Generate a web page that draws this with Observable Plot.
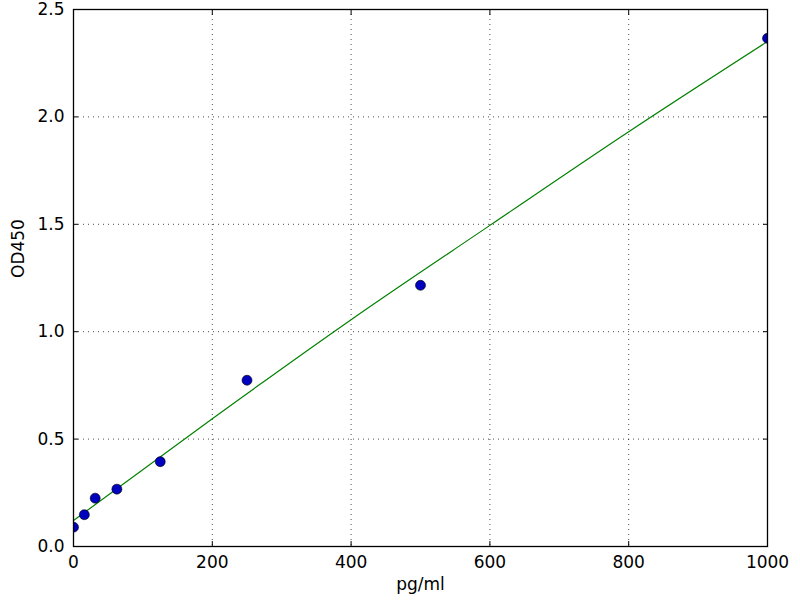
<!DOCTYPE html>
<html>
<head>
<meta charset="utf-8">
<script src="https://cdn.jsdelivr.net/npm/d3@7"></script>
<script src="https://cdn.jsdelivr.net/npm/@observablehq/plot@0.6"></script>
<style>
  body { margin: 0; background: white; }
  #chart svg { display: block; }
</style>
</head>
<body>
<div id="chart"></div>
<script>
// standard curve points
const conc = [0, 15.625, 31.25, 62.5, 125, 250, 500, 1000];
const od = [0.09, 0.148, 0.225, 0.267, 0.395, 0.774, 1.216, 2.366];

// fitted curve at the grid lines
const fitX = [0, 200, 400, 600, 800, 1000];
const fitY = [0.121, 0.595, 1.056, 1.495, 1.931, 2.351];

const xTicks = [0, 200, 400, 600, 800, 1000];
const yTicks = [0, 0.5, 1.0, 1.5, 2.0, 2.5];

const points = conc.map((x, i) => ({x, y: od[i]}));
const fit = fitX.map((x, i) => ({x, y: fitY[i]}));

const chart = Plot.plot({
  width: 800,
  height: 600,
  marginLeft: 73,
  marginRight: 33,
  marginTop: 9,
  marginBottom: 54,
  style: {
    fontFamily: "DejaVu Sans",
    fontSize: "17px",
    color: "black",
    background: "white"
  },
  x: {domain: [0, 1000]},
  y: {domain: [0, 2.5]},
  marks: [
    Plot.gridX(xTicks, {stroke: "black", strokeOpacity: 0.7, strokeDasharray: "1,4"}),
    Plot.gridY(yTicks, {stroke: "black", strokeOpacity: 0.7, strokeDasharray: "1,4"}),
    Plot.line(fit, {x: "x", y: "y", curve: "monotone-x", stroke: "#008000", strokeWidth: 1.2}),
    Plot.dot(points, {x: "x", y: "y", r: 5, fill: "#0000bf", stroke: "black", strokeWidth: 0.6, clip: true}),
    Plot.axisX(xTicks, {tickSize: -5, tickPadding: 14, tickFormat: d3.format("d"), label: null, fontSize: 17}),
    Plot.axisX(xTicks, {anchor: "top", tickSize: -5, tickFormat: () => "", label: null}),
    Plot.axisY(yTicks, {tickSize: -5, tickPadding: 14, tickFormat: d3.format(".1f"), label: null, fontSize: 17}),
    Plot.axisY(yTicks, {anchor: "right", tickSize: -5, tickFormat: () => "", label: null}),
    Plot.frame({stroke: "black", strokeWidth: 1.3}),
    Plot.text(["pg/ml"], {frameAnchor: "bottom", dy: 43, fontSize: 17}),
    Plot.text(["OD450"], {frameAnchor: "left", rotate: -90, dx: -55, fontSize: 17})
  ]
});

document.getElementById("chart").append(chart);
</script>
</body>
</html>
